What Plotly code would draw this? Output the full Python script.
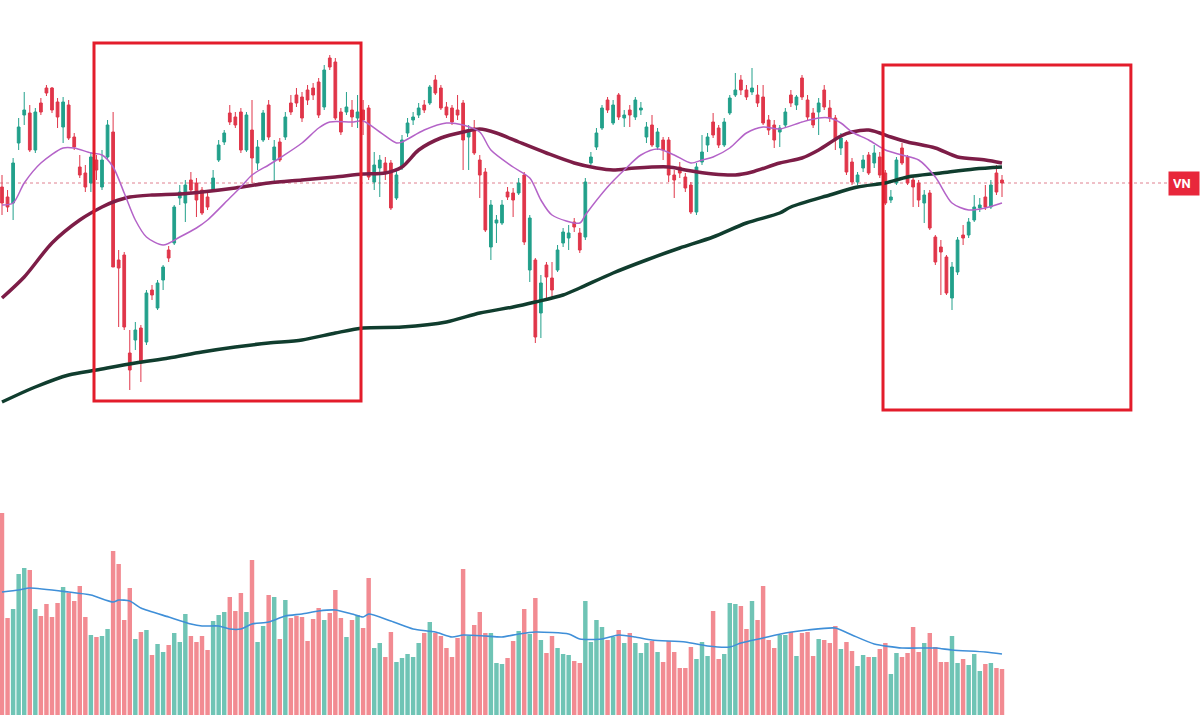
import plotly.graph_objects as go

# ---------------- data (VN-Index daily) ----------------
open_ = [1246.5,1241.5,1238.5,1268.5,1282.5,1283.5,1265,1288.5,1296,1296,
1289,1276.5,1287.5,1271.5,1256.5,1253.5,1248.5,1260,1246.5,1261.5,
1274,1210,1212.5,1163.5,1170,1176,1169,1195,1186,1200,
1215,1218.5,1241,1238.5,1250,1248.5,1245,1241.5,1245,1260,
1269,1283.5,1281.5,1284,1265,1275,1258.5,1270,1287.5,1260,
1269,1271.5,1288.5,1292.5,1291.5,1295,1296,1299,1286.5,1311,
1309,1284,1284,1285,1281,1285,1286,1249,1256,1258.5,
1258.5,1241,1256.5,1273.5,1280,1282.5,1287.5,1288.5,1300,1296,
1286.5,1286,1285,1288.5,1271.5,1276,1260,1254,1216.5,1228.5,
1228.5,1244,1243.5,1243.5,1252.5,1205,1210,1183.5,1207.5,1201,
1205,1218.5,1221,1229,1223.5,1221.5,1258.5,1266.5,1276,1290,
1278.5,1292.5,1281,1285,1281.5,1285,1271.5,1277.5,1266.5,1270,
1270,1252.5,1256.5,1251.5,1247.5,1234,1259,1267.5,1279,1276,
1267.5,1283.5,1292.5,1300,1295,1294,1292.5,1291.5,1280,1277.5,
1274,1277.5,1292.5,1287.5,1301,1290,1283.5,1284,1295,1286,
1281,1266,1269,1259,1249,1256,1262.5,1258.5,1261.5,1253.5,
1240,1248.5,1266,1261.5,1250,1248.5,1238.5,1243.5,1221.5,1216.5,
1211.5,1191,1204,1222.5,1222.5,1230,1236,1241.5,1236.5,1253.5,
1250]
high = [1252.5,1245,1261,1281,1294,1287.5,1286,1291,1297.5,1296.5,
1291,1291.5,1290,1273.5,1262.5,1257.5,1264,1262.5,1265,1280,
1284,1215,1214,1175,1179,1177.5,1195,1197.5,1200,1207.5,
1217,1237.5,1247.5,1250,1254,1251,1246.5,1243.5,1255,1270,
1275,1287.5,1284,1286,1284,1290,1270,1285,1290,1270,
1271,1284,1292.5,1296,1294,1297.5,1298.5,1301,1307.5,1312.5,
1311,1286,1294,1290,1292.5,1290,1287.5,1264,1262.5,1261.5,
1260,1255,1272.5,1281,1284,1288.5,1290,1297.5,1302.5,1297.5,
1289,1287.5,1292.5,1290,1277.5,1280,1262.5,1256,1240,1232.5,
1240,1246.5,1246,1251,1254,1232.5,1211,1202.5,1209,1209,
1217.5,1226,1227.5,1231,1226,1251,1264,1276,1287.5,1291.5,
1290,1293.5,1285,1287.5,1291.5,1289,1279,1282.5,1276,1271.5,
1271.5,1255,1259,1253.5,1249,1258.5,1272.5,1273.5,1283.5,1277.5,
1281,1292.5,1303.5,1302.5,1297.5,1306,1297.5,1297.5,1282.5,1280,
1277.5,1286,1295,1292.5,1302.5,1292.5,1286,1291,1297.5,1290,
1282.5,1273.5,1270,1261,1254,1262.5,1264,1267.5,1264,1255,
1245,1261.5,1268.5,1262.5,1252.5,1250,1245,1245,1222.5,1220,
1212.5,1209,1221.5,1227.5,1231,1242.5,1241,1247.5,1250,1257.5,
1252.5]
low = [1232.5,1234,1230,1265,1277.5,1264,1263.5,1282.5,1292,1283.5,
1276,1268.5,1270,1265,1251,1244,1244,1250,1245,1260,
1206.5,1176.5,1175,1145,1165,1149,1167.5,1190,1185,1195,
1209,1217.5,1237.5,1229,1243.5,1231.5,1232.5,1235,1244,1259,
1267.5,1277.5,1276,1263.5,1264,1248.5,1255,1269,1270,1249,
1259,1270,1282.5,1286.5,1279,1287.5,1290,1281,1285,1305,
1280,1272.5,1282.5,1276.5,1276,1272.5,1250,1245,1241.5,1250,
1235,1240,1255,1271.5,1277.5,1281,1283.5,1287.5,1292.5,1285,
1281,1277.5,1280,1255,1255,1262.5,1241,1224,1210,1218.5,
1227.5,1240,1231.5,1242.5,1217.5,1199,1168.5,1171,1190,1191,
1204,1216.5,1215,1224,1213.5,1220,1257.5,1265,1275,1283.5,
1277.5,1280,1276.5,1276.5,1280,1282.5,1268.5,1266.5,1265,1260,
1249,1241,1251,1244,1233,1232.5,1257.5,1264,1271,1266,
1266.5,1282.5,1291.5,1292.5,1290,1292.5,1286.5,1277.5,1272.5,1266,
1266.5,1276,1286.5,1285,1290,1280,1276,1272.5,1285,1279,
1265,1262.5,1252.5,1247.5,1247.5,1254,1252.5,1256,1251,1237.5,
1238.5,1247.5,1257.5,1247.5,1236.5,1236.5,1228.5,1225,1207.5,1192.5,
1192.5,1185,1202.5,1217.5,1221,1229,1234,1235,1235.5,1242.5,
1241.5]
close = [1238.5,1236.5,1258.5,1276.5,1285,1265,1284,1284,1293.5,1285,
1281.5,1289,1271,1266.5,1252.5,1246.5,1261.5,1255,1260,1277.5,
1206.5,1206,1176.5,1155,1175,1158.5,1193.5,1192.5,1198.5,1206.5,
1211,1236.5,1244,1247.5,1245,1240,1233.5,1236.5,1251,1267.5,
1273.5,1279,1277.5,1265,1282.5,1261,1266.5,1283.5,1271.5,1266.5,
1260,1281.5,1284,1288.5,1281,1290,1292.5,1282.5,1305,1306.5,
1281,1274,1286.5,1281.5,1284,1280,1251.5,1257.5,1260,1253.5,
1236,1252.5,1270,1278.5,1281.5,1286,1285,1296.5,1293.5,1286,
1282.5,1279,1282.5,1270,1275,1263.5,1252.5,1225,1237.5,1230,
1237.5,1241.5,1240,1248.5,1219,1231,1171.5,1198.5,1201.5,1195,
1215,1224,1223.5,1226.5,1215,1249,1261.5,1273.5,1286,1285,
1287.5,1281.5,1282.5,1282.5,1290,1286,1276.5,1267.5,1274,1265,
1252.5,1250,1253.5,1246,1234,1256.5,1264,1271.5,1272.5,1267.5,
1279,1291,1295,1295,1291.5,1296,1288.5,1278.5,1275,1270,
1276,1284,1288.5,1291.5,1291.5,1281.5,1277.5,1288.5,1286.5,1281,
1270,1271,1254,1249,1252.5,1260,1253.5,1263.5,1252.5,1238.5,
1241.5,1260,1258.5,1248.5,1246.5,1240,1242.5,1226,1209,1214,
1193.5,1206.5,1220,1221,1229,1236.5,1237.5,1236.5,1247.5,1244,
1248.5]
volume = [1010,485,530,705,735,725,530,495,555,490,
560,640,610,570,645,490,400,390,395,430,
820,755,475,635,380,415,425,300,355,315,
350,410,365,505,395,365,395,325,470,500,
515,590,520,610,515,775,365,445,600,590,
380,575,485,495,490,370,480,535,475,510,
625,485,390,475,500,435,685,335,360,290,
415,265,285,305,290,360,410,465,410,395,
335,290,385,730,395,450,515,410,410,260,
255,285,370,420,530,405,585,375,310,395,
335,305,300,270,260,570,365,475,440,375,
390,425,360,410,360,310,360,370,315,265,
370,315,235,235,340,280,365,295,520,280,
305,560,555,545,430,570,475,645,375,335,
400,400,415,295,410,415,295,380,375,360,
445,330,365,320,245,300,290,290,330,360,
205,310,290,310,440,315,360,410,340,265,
265,395,260,280,250,305,220,255,260,235,
230]

# moving averages (bar index -> value)
ma20_idx = [0,2,4,7,11,13,16,18,20,22,24,26,29,32,35,37,41,43,45,48,50,54,57,59,63,65,68,71,72,76,
            80,83,86,88,92,95,97,99,104,105,109,112,115,118,121,124,126,128,131,134,137,140,144,147,149,151,
            153,156,159,162,165,168,171,174,177,180]
ma20_val = [1237.5,1238.5,1248.5,1258.5,1266,1266,1263.5,1262.5,1256.5,1243.5,1230,1221.5,1217.5,1221.5,1226,
            1230,1241,1246.5,1252.5,1257.5,1261,1268.5,1276,1279,1279,1279.5,1274,1268.5,1269,1275,
            1278.5,1277.5,1274,1265,1256.5,1251,1240,1232.5,1228.5,1232.5,1246.5,1255,1262.5,1265.5,1262.5,
            1258.5,1260,1261.5,1266,1273.5,1276.5,1275.5,1279,1281,1281,1278.5,1274,1270,1265,1262.5,
            1260,1251.5,1238.5,1235,1236,1238.5]
ma50_idx = [0,4,9,14,18,20,23,27,32,36,42,48,54,60,65,69,72,75,79,83,86,89,93,98,103,107,110,114,120,123,
            128,132,135,140,144,147,151,153,156,158,160,163,168,172,177,180]
ma50_val = [1191,1201.5,1218.5,1230,1236.5,1239,1241.5,1242.5,1243,1244,1246,1248.5,1250,1251.5,1253,1253.5,
            1256.5,1265,1271,1274,1275.5,1273.5,1269,1263.5,1258.5,1256,1255,1256,1256.5,1255,
            1253,1252.5,1254,1258.5,1261,1265,1272,1274,1275,1273.5,1271.5,1269,1266,1261.5,1260,1258.5]
ma200_idx = [0,6,12,17,24,30,36,42,48,54,60,65,72,80,86,92,96,101,104,110,116,122,128,134,140,142,149,154,
             159,163,169,175,180]
ma200_val = [1139,1146.5,1152.5,1155,1158.5,1161,1164,1166.5,1168.5,1170,1173.5,1176,1176.5,1179,1183.5,
             1186.5,1189,1192.5,1196,1203.5,1210,1216,1221.5,1228.5,1233.5,1236.5,1242.5,1246.5,1248.5,
             1251.5,1253.5,1255.5,1256.5]
volma_idx = [0,3,5,12,16,20,21,23,25,30,34,36,39,41,43,45,48,51,54,57,60,63,65,66,70,74,78,81,83,87,
             90,93,96,102,104,108,111,114,117,123,127,131,133,137,141,145,150,153,157,162,168,171,177,180]
volma_val = [615,625,635,615,600,565,575,570,535,490,455,445,445,430,430,455,465,495,505,520,
             525,505,490,505,470,430,415,390,400,395,390,405,415,405,380,380,400,390,375,365,
             345,340,360,385,410,425,435,400,355,335,335,325,315,305]

label_text = "VN"

# ---------------- figure ----------------
UP, DOWN = "#22a08b", "#e0364a"
UP_V, DOWN_V = "#6fc4b5", "#f28b92"

x = list(range(len(close)))
vol_colors = [UP_V if c >= o else DOWN_V for o, c in zip(open_, close)]

fig = go.Figure()
fig.add_trace(go.Bar(x=x, y=volume, marker=dict(color=vol_colors, line=dict(width=0)),
                     width=0.8, yaxis="y2", hoverinfo="skip"))
fig.add_trace(go.Scatter(x=volma_idx, y=volma_val, mode="lines", yaxis="y2",
                         line=dict(color="#3f8fd8", width=1.6, shape="spline", smoothing=0.6)))
fig.add_trace(go.Candlestick(x=x, open=open_, high=high, low=low, close=close,
                             increasing=dict(line=dict(color=UP, width=1), fillcolor=UP),
                             decreasing=dict(line=dict(color=DOWN, width=1), fillcolor=DOWN),
                             whiskerwidth=0))
fig.add_trace(go.Scatter(x=ma200_idx, y=ma200_val, mode="lines",
                         line=dict(color="#103d2e", width=3.5, shape="spline", smoothing=0.8)))
fig.add_trace(go.Scatter(x=ma50_idx, y=ma50_val, mode="lines",
                         line=dict(color="#7d1d47", width=3.5, shape="spline", smoothing=0.8)))
fig.add_trace(go.Scatter(x=ma20_idx, y=ma20_val, mode="lines",
                         line=dict(color="#b463c8", width=1.5, shape="spline", smoothing=0.8)))

last = close[-1]
shapes = [
    dict(type="line", xref="paper", x0=0, x1=0.976, yref="y", y0=last, y1=last,
         line=dict(color="#e0808f", width=1, dash="dot"), layer="below"),
    dict(type="rect", xref="x", yref="y", x0=16.56, x1=64.62, y0=1139.5, y1=1318.5,
         line=dict(color="#e31c2b", width=3)),
    dict(type="rect", xref="x", yref="y", x0=158.58, x1=203.2, y0=1135, y1=1307.5,
         line=dict(color="#e31c2b", width=3)),
]

fig.update_layout(
    width=1200, height=715, margin=dict(l=0, r=0, t=0, b=0),
    paper_bgcolor="white", plot_bgcolor="white", showlegend=False,
    xaxis=dict(range=[-0.36, 215.64], visible=False, rangeslider=dict(visible=False),
               showgrid=False, zeroline=False),
    yaxis=dict(range=[982.5, 1340], visible=False, showgrid=False, zeroline=False),
    yaxis2=dict(range=[0, 3575], overlaying="y", visible=False, showgrid=False, zeroline=False),
    shapes=shapes, bargap=0.2,
    annotations=[dict(xref="paper", x=1, xanchor="right", yref="y", y=last, yanchor="middle",
                      text="<b>" + label_text + "</b>", showarrow=False, bgcolor="#e8273b",
                      font=dict(color="white", size=13, family="Roboto"), borderpad=4,
                      width=22, align="left")],
)

fig.write_html("out.html")
